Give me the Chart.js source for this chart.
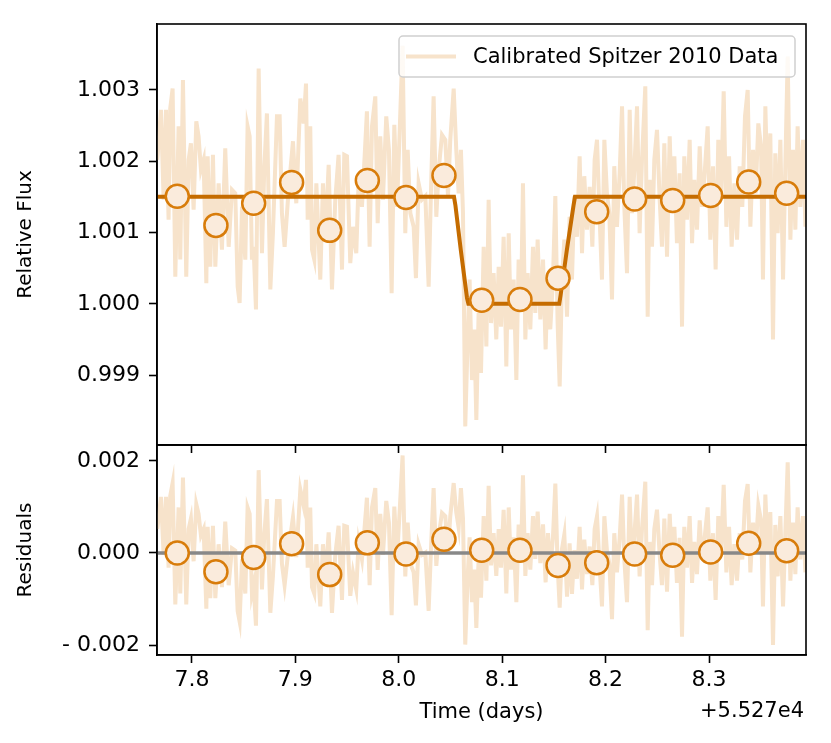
<!DOCTYPE html>
<html>
<head>
<meta charset="utf-8">
<script src="https://cdn.jsdelivr.net/npm/chart.js@4.4.1/dist/chart.umd.min.js"></script>
<style>
  html, body { margin: 0; padding: 0; background: #fff; }
  #wrap { position: relative; width: 831px; height: 743px; }
  canvas { position: absolute; left: 0; top: 0; }
</style>
</head>
<body>
<div id="wrap">
  <canvas id="fluxChart" width="831" height="743"></canvas>
  <canvas id="residChart" width="831" height="743"></canvas>
</div>
<script>
// time offset shown as +5.527e4 on the axis
const xTicks = [7.8, 7.9, 8.0, 8.1, 8.2, 8.3];
const fluxTicks = [0.999, 1.000, 1.001, 1.002, 1.003];
const residTicks = [-0.002, 0.000, 0.002];

// calibrated Spitzer light curve
const dataTime = [
  7.7665, 7.7700, 7.7726, 7.7749, 7.7774, 7.7790, 7.7813, 7.7839, 7.7871, 7.7887,
  7.7913, 7.7945, 7.7968, 7.7990, 7.8016, 7.8042, 7.8064, 7.8087, 7.8113, 7.8139,
  7.8152, 7.8177, 7.8203, 7.8226, 7.8258, 7.8290, 7.8322, 7.8355, 7.8387, 7.8419,
  7.8442, 7.8461, 7.8484, 7.8516, 7.8538, 7.8558, 7.8580, 7.8596, 7.8619, 7.8645,
  7.8677, 7.8699, 7.8725, 7.8758, 7.8783, 7.8822, 7.8848, 7.8870, 7.8896, 7.8935,
  7.8977, 7.9009, 7.9048, 7.9080, 7.9103, 7.9119, 7.9144, 7.9161, 7.9183, 7.9203,
  7.9241, 7.9267, 7.9289, 7.9322, 7.9354, 7.9386, 7.9418, 7.9451, 7.9473, 7.9499,
  7.9531, 7.9557, 7.9589, 7.9612, 7.9644, 7.9670, 7.9692, 7.9718, 7.9741, 7.9773,
  7.9796, 7.9821, 7.9847, 7.9879, 7.9905, 7.9931, 7.9957, 7.9983, 8.0008, 8.0037,
  8.0063, 8.0086, 8.0112, 8.0144, 8.0166, 8.0192, 8.0224, 8.0257, 8.0289, 8.0315,
  8.0337, 8.0363, 8.0386, 8.0418, 8.0450, 8.0476, 8.0498, 8.0531, 8.0556, 8.0579,
  8.0601, 8.0621, 8.0643, 8.0666, 8.0685, 8.0708, 8.0730, 8.0750, 8.0772, 8.0795,
  8.0821, 8.0847, 8.0869, 8.0892, 8.0917, 8.0943, 8.0966, 8.0988, 8.1014, 8.1040,
  8.1063, 8.1085, 8.1111, 8.1137, 8.1159, 8.1182, 8.1201, 8.1224, 8.1246, 8.1272,
  8.1298, 8.1320, 8.1343, 8.1369, 8.1395, 8.1420, 8.1443, 8.1465, 8.1491, 8.1514,
  8.1536, 8.1556, 8.1578, 8.1601, 8.1627, 8.1652, 8.1675, 8.1698, 8.1723, 8.1749,
  8.1772, 8.1794, 8.1820, 8.1846, 8.1872, 8.1894, 8.1917, 8.1943, 8.1965, 8.1988,
  8.2013, 8.2036, 8.2062, 8.2084, 8.2110, 8.2136, 8.2159, 8.2181, 8.2207, 8.2233,
  8.2255, 8.2278, 8.2304, 8.2329, 8.2352, 8.2384, 8.2407, 8.2426, 8.2449, 8.2471,
  8.2497, 8.2523, 8.2545, 8.2568, 8.2594, 8.2620, 8.2642, 8.2665, 8.2690, 8.2716,
  8.2739, 8.2761, 8.2787, 8.2813, 8.2836, 8.2858, 8.2884, 8.2910, 8.2932, 8.2958,
  8.2987, 8.3013, 8.3039, 8.3064, 8.3090, 8.3116, 8.3142, 8.3168, 8.3194, 8.3219,
  8.3245, 8.3271, 8.3297, 8.3322, 8.3348, 8.3374, 8.3400, 8.3426, 8.3451, 8.3477,
  8.3503, 8.3522, 8.3545, 8.3567, 8.3593, 8.3619, 8.3641, 8.3664, 8.3690, 8.3716,
  8.3738, 8.3761, 8.3787, 8.3812, 8.3835, 8.3857, 8.3883, 8.3909, 8.3932
];
const dataFlux = [
  1.00202, 1.00272, 1.00146, 1.00272, 1.00118, 1.00274, 1.00302, 1.00038, 1.00249, 1.00062,
  1.00314, 1.00038, 1.00202, 1.00225, 1.00132, 1.00256, 1.00235, 1.00188, 1.00202, 1.00029,
  1.00207, 1.00052, 1.00209, 1.00052, 1.00169, 1.00076, 1.00218, 1.00080, 1.00160, 1.00155,
  1.00024, 1.00001, 1.00136, 1.00062, 1.00249, 1.00235, 1.00062, 1.00080, 0.99992, 1.00330,
  1.00071, 1.00188, 1.00267, 1.00020, 1.00099, 1.00263, 1.00263, 1.00127, 1.00080, 1.00160,
  1.00228, 1.00141, 1.00288, 1.00253, 1.00309, 1.00118, 1.00249, 1.00076, 1.00062, 1.00169,
  1.00034, 1.00169, 1.00090, 1.00195, 1.00020, 1.00146, 1.00209, 1.00048, 1.00209, 1.00207,
  1.00057, 1.00108, 1.00071, 1.00174, 1.00136, 1.00207, 1.00270, 1.00080, 1.00249, 1.00291,
  1.00113, 1.00235, 1.00146, 1.00263, 1.00216, 1.00015, 1.00251, 1.00136, 1.00239, 1.00362,
  1.00099, 1.00216, 1.00127, 1.00108, 1.00036, 1.00169, 1.00146, 1.00151, 1.00024, 1.00179,
  1.00291, 1.00122, 1.00188, 1.00237, 1.00230, 1.00151, 1.00230, 1.00302, 1.00216, 1.00155,
  1.00216, 1.00127, 0.99828, 0.99950, 1.00034, 0.99893, 0.99964, 0.99837, 0.99987, 0.99903,
  1.00080, 0.99940, 1.00146, 0.99973, 1.00043, 0.99950, 1.00052, 0.99968, 1.00094, 0.99912,
  1.00099, 0.99964, 1.00034, 0.99893, 1.00062, 0.99996, 1.00169, 0.99950, 1.00043, 0.99964,
  1.00080, 0.99987, 1.00090, 0.99978, 1.00062, 0.99936, 1.00043, 0.99964, 1.00034, 1.00151,
  0.99973, 0.99884, 1.00034, 1.00090, 0.99982, 1.00122, 1.00034, 1.00151, 1.00094, 1.00207,
  1.00071, 1.00179, 1.00104, 1.00164, 1.00080, 1.00202, 1.00230, 1.00118, 1.00034, 1.00230,
  1.00155, 1.00127, 1.00006, 1.00193, 1.00108, 1.00183, 1.00277, 1.00136, 1.00043, 1.00272,
  1.00127, 1.00188, 1.00277, 1.00099, 1.00202, 1.00305, 0.99982, 1.00174, 1.00080, 1.00202,
  1.00244, 1.00146, 1.00080, 1.00225, 1.00066, 1.00235, 1.00127, 1.00207, 1.00085, 1.00183,
  0.99968, 1.00207, 1.00118, 1.00230, 1.00085, 1.00174, 1.00104, 1.00221, 1.00136, 1.00183,
  1.00249, 1.00090, 1.00193, 1.00048, 1.00230, 1.00151, 1.00298, 1.00108, 1.00207, 1.00080,
  1.00169, 1.00090, 1.00193, 1.00136, 1.00263, 1.00300, 1.00108, 1.00216, 1.00155, 1.00253,
  1.00221, 1.00034, 1.00277, 1.00151, 1.00239, 0.99950, 1.00211, 1.00099, 1.00230, 1.00034,
  1.00193, 1.00347, 1.00090, 1.00216, 1.00104, 1.00249, 1.00136, 1.00230, 1.00108
];
const dataResid = [
  0.00052, 0.00122, -0.00004, 0.00122, -0.00032, 0.00124, 0.00152, -0.00112, 0.00099, -0.00088,
  0.00164, -0.00112, 0.00052, 0.00075, -0.00018, 0.00106, 0.00085, 0.00038, 0.00052, -0.00121,
  0.00057, -0.00098, 0.00059, -0.00098, 0.00019, -0.00074, 0.00068, -0.00070, 0.00010, 0.00005,
  -0.00126, -0.00149, -0.00014, -0.00088, 0.00099, 0.00085, -0.00088, -0.00070, -0.00158, 0.00180,
  -0.00079, 0.00038, 0.00117, -0.00130, -0.00051, 0.00113, 0.00113, -0.00023, -0.00070, 0.00010,
  0.00078, -0.00009, 0.00138, 0.00103, 0.00159, -0.00032, 0.00099, -0.00074, -0.00088, 0.00019,
  -0.00116, 0.00019, -0.00060, 0.00045, -0.00130, -0.00004, 0.00059, -0.00102, 0.00059, 0.00057,
  -0.00093, -0.00042, -0.00079, 0.00024, -0.00014, 0.00057, 0.00120, -0.00070, 0.00099, 0.00141,
  -0.00037, 0.00085, -0.00004, 0.00113, 0.00066, -0.00135, 0.00101, -0.00014, 0.00089, 0.00212,
  -0.00051, 0.00066, -0.00023, -0.00042, -0.00114, 0.00019, -0.00004, 0.00001, -0.00126, 0.00029,
  0.00141, -0.00028, 0.00038, 0.00087, 0.00080, 0.00001, 0.00080, 0.00152, 0.00088, 0.00055,
  0.00141, 0.00075, -0.00199, -0.00054, 0.00034, -0.00107, -0.00036, -0.00163, -0.00013, -0.00097,
  0.00080, -0.00060, 0.00146, -0.00027, 0.00043, -0.00050, 0.00052, -0.00032, 0.00094, -0.00088,
  0.00099, -0.00036, 0.00034, -0.00107, 0.00062, -0.00004, 0.00169, -0.00050, 0.00043, -0.00036,
  0.00080, -0.00013, 0.00090, -0.00022, 0.00062, -0.00064, 0.00043, -0.00036, 0.00034, 0.00151,
  -0.00027, -0.00119, 0.00008, 0.00040, -0.00095, 0.00021, -0.00089, 0.00006, -0.00056, 0.00057,
  -0.00079, 0.00029, -0.00046, 0.00014, -0.00070, 0.00052, 0.00080, -0.00032, -0.00116, 0.00080,
  0.00005, -0.00023, -0.00144, 0.00043, -0.00042, 0.00033, 0.00127, -0.00014, -0.00107, 0.00122,
  -0.00023, 0.00038, 0.00127, -0.00051, 0.00052, 0.00155, -0.00168, 0.00024, -0.00070, 0.00052,
  0.00094, -0.00004, -0.00070, 0.00075, -0.00084, 0.00085, -0.00023, 0.00057, -0.00065, 0.00033,
  -0.00182, 0.00057, -0.00032, 0.00080, -0.00065, 0.00024, -0.00046, 0.00071, -0.00014, 0.00033,
  0.00099, -0.00060, 0.00043, -0.00102, 0.00080, 0.00001, 0.00148, -0.00042, 0.00057, -0.00070,
  0.00019, -0.00060, 0.00043, -0.00014, 0.00113, 0.00150, -0.00042, 0.00066, 0.00005, 0.00103,
  0.00071, -0.00116, 0.00127, 0.00001, 0.00089, -0.00200, 0.00061, -0.00051, 0.00080, -0.00116,
  0.00043, 0.00197, -0.00060, 0.00066, -0.00046, 0.00099, -0.00014, 0.00080, -0.00042
];

// binned points
const binTime = [7.7858, 7.8232, 7.8597, 7.8964, 7.9332, 7.9696, 8.0070, 8.0437, 8.0802,
  8.1172, 8.1540, 8.1914, 8.2281, 8.2649, 8.3016, 8.3384, 8.3751];
const binFlux = [1.00151, 1.00110, 1.00141, 1.00170, 1.00103, 1.00173, 1.00149, 1.00180, 1.00005,
  1.00006, 1.00036, 1.00129, 1.00147, 1.00145, 1.00152, 1.00171, 1.00155];
const binResid = [0.00000, -0.00041, -0.00010, 0.00020, -0.00047, 0.00022, -0.00002, 0.00030, 0.00006,
  0.00006, -0.00027, -0.00021, -0.00002, -0.00005, 0.00002, 0.00021, 0.00005];

// transit model
const modelTime = [7.7662, 8.0534, 8.0548, 8.0600, 8.0660, 8.0673, 8.1552, 8.1565, 8.1625, 8.1690, 8.1704, 8.3938];
const modelFlux = [1.0015, 1.0015, 1.00138, 1.00075, 1.00008, 1.0000, 1.0000, 1.00012, 1.00075, 1.00138, 1.0015, 1.0015];
const zeroTime = [7.7662, 8.3938];
const zeroResid = [0, 0];

const xMin = 7.7662, xMax = 8.3938;

const noiseColor = '#F7E3CB';
const modelColor = '#C56C00';
const binEdge = '#D87C0A';
const binFill = '#FAEBDC';

Chart.defaults.font.family = "'DejaVu Sans', sans-serif";
Chart.defaults.color = '#000';

function pts(xs, ys) {
  return xs.map((x, i) => ({ x: x, y: ys[i] }));
}

// box round the plot area, like matplotlib spines
const frame = {
  id: 'frame',
  afterDatasetsDraw(chart) {
    const a = chart.chartArea;
    const ctx = chart.ctx;
    ctx.save();
    ctx.strokeStyle = '#000';
    ctx.lineWidth = 1.6;
    ctx.strokeRect(a.left, a.top, a.right - a.left, a.bottom - a.top);
    ctx.restore();
  }
};

const legendBox = {
  id: 'legendBox',
  afterDatasetsDraw(chart) {
    const a = chart.chartArea;
    const ctx = chart.ctx;
    const w = 396, h = 41;
    const x = a.right - 11 - w, y = a.top + 12;
    ctx.save();
    ctx.beginPath();
    ctx.roundRect(x, y, w, h, 4);
    ctx.fillStyle = 'rgba(255,255,255,0.8)';
    ctx.fill();
    ctx.strokeStyle = '#d0d0d0';
    ctx.lineWidth = 1.5;
    ctx.stroke();
    ctx.beginPath();
    ctx.moveTo(x + 7, y + h / 2);
    ctx.lineTo(x + 57, y + h / 2);
    ctx.strokeStyle = noiseColor;
    ctx.lineWidth = 4;
    ctx.stroke();
    ctx.fillStyle = '#000';
    ctx.font = "21px 'DejaVu Sans'";
    ctx.textBaseline = 'middle';
    ctx.fillText('Calibrated Spitzer 2010 Data', x + 74, y + h / 2 + 1);
    ctx.restore();
  }
};

const offsetText = {
  id: 'offsetText',
  afterDraw(chart) {
    const a = chart.chartArea;
    const ctx = chart.ctx;
    ctx.save();
    ctx.fillStyle = '#000';
    ctx.font = "21px 'DejaVu Sans'";
    ctx.textAlign = 'right';
    ctx.textBaseline = 'middle';
    ctx.fillText('+5.527e4', a.right - 2, 712);
    ctx.restore();
  }
};

function xScale(showLabels) {
  return {
    type: 'linear',
    min: xMin,
    max: xMax,
    afterBuildTicks: s => { s.ticks = xTicks.map(v => ({ value: v })); },
    afterFit: s => { s.height = showLabels ? 88 : 8; },
    ticks: {
      display: showLabels,
      autoSkip: false,
      maxRotation: 0,
      padding: 4,
      font: { size: 22 },
      callback: v => v.toFixed(1)
    },
    grid: { drawOnChartArea: false, drawTicks: true, tickLength: 8, tickColor: '#000', tickWidth: 1.6 },
    border: { display: true, color: '#000', width: 1.6 },
    title: {
      display: showLabels,
      text: 'Time (days)',
      font: { size: 21 },
      padding: { top: 0, bottom: 18 }
    }
  };
}

function yScale(min, max, ticks, title, fmt) {
  return {
    min: min,
    max: max,
    afterBuildTicks: s => { s.ticks = ticks.map(v => ({ value: v })); },
    afterFit: s => { s.width = 157; },
    ticks: { autoSkip: false, padding: 9, font: { size: 22 }, callback: fmt },
    grid: { drawOnChartArea: false, drawTicks: true, tickLength: 8, tickColor: '#000', tickWidth: 1.6 },
    border: { display: true, color: '#000', width: 1.6 },
    title: { display: true, text: title, font: { size: 20 }, padding: { top: 14, bottom: 0 } }
  };
}

new Chart(document.getElementById('fluxChart').getContext('2d'), {
  type: 'scatter',
  data: {
    datasets: [
      {
        label: 'Binned',
        data: pts(binTime, binFlux),
        pointRadius: 11.5,
        pointBorderWidth: 2.5,
        pointBorderColor: binEdge,
        pointBackgroundColor: binFill,
        showLine: false,
        order: 0
      },
      {
        label: 'Model',
        data: pts(modelTime, modelFlux),
        showLine: true,
        borderColor: modelColor,
        borderWidth: 4,
        pointRadius: 0,
        order: 1
      },
      {
        label: 'Calibrated Spitzer 2010 Data',
        data: pts(dataTime, dataFlux),
        showLine: true,
        borderColor: noiseColor,
        borderWidth: 4,
        pointRadius: 0,
        order: 2
      }
    ]
  },
  options: {
    responsive: false,
    animation: false,
    events: [],
    layout: { padding: { left: 0, right: 25, top: 24, bottom: 290 } },
    plugins: { legend: { display: false }, tooltip: { enabled: false } },
    scales: {
      x: xScale(false),
      y: yScale(0.998019, 1.003925, fluxTicks, 'Relative Flux', v => v.toFixed(3))
    }
  },
  plugins: [frame, legendBox]
});

new Chart(document.getElementById('residChart').getContext('2d'), {
  type: 'scatter',
  data: {
    datasets: [
      {
        label: 'Binned residuals',
        data: pts(binTime, binResid),
        pointRadius: 11.5,
        pointBorderWidth: 2.5,
        pointBorderColor: binEdge,
        pointBackgroundColor: binFill,
        showLine: false,
        order: 0
      },
      {
        label: 'Zero',
        data: pts(zeroTime, zeroResid),
        showLine: true,
        borderColor: '#888888',
        borderWidth: 3.5,
        pointRadius: 0,
        order: 1
      },
      {
        label: 'Residuals',
        data: pts(dataTime, dataResid),
        showLine: true,
        borderColor: noiseColor,
        borderWidth: 4,
        pointRadius: 0,
        order: 2
      }
    ]
  },
  options: {
    responsive: false,
    animation: false,
    events: [],
    layout: { padding: { left: 0, right: 25, top: 445, bottom: 0 } },
    plugins: { legend: { display: false }, tooltip: { enabled: false } },
    scales: {
      x: xScale(true),
      y: yScale(-0.002217, 0.002347, residTicks, 'Residuals',
        v => v < 0 ? '- ' + Math.abs(v).toFixed(3) : v.toFixed(3))
    }
  },
  plugins: [frame, offsetText]
});
</script>
</body>
</html>
